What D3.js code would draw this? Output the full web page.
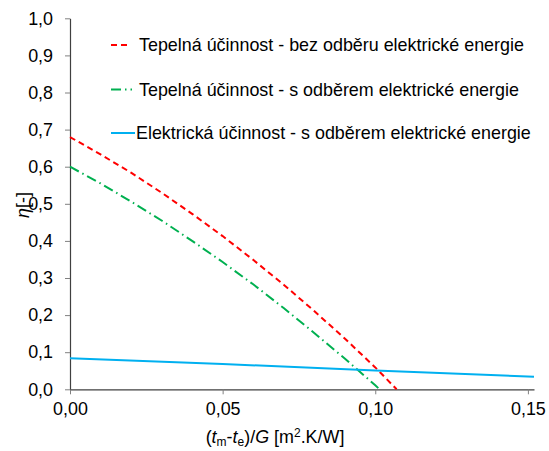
<!DOCTYPE html>
<html>
<head>
  <meta charset="utf-8">
  <script src="https://cdn.jsdelivr.net/npm/d3@7"></script>
  <style>
    body { margin: 0; background: #fff; }
    text { font-family: "Liberation Sans", Arial, sans-serif; fill: #000; }
  </style>
</head>
<body>
  <script>

  var width = 549
  var height = 451
  var fs = 17.9

  // x = (tm-te)/G
  var xRed = [0, 0.01, 0.02, 0.03, 0.04, 0.05, 0.06, 0.07, 0.08, 0.09, 0.10, 0.107];
  var yRed = [0.68, 0.633, 0.584, 0.530, 0.473, 0.413, 0.349, 0.282, 0.211, 0.137, 0.059, 0.0];

  var xGreen = [0, 0.01, 0.02, 0.03, 0.04, 0.05, 0.06, 0.07, 0.08, 0.09, 0.10, 0.1014];
  var yGreen = [0.60, 0.555, 0.506, 0.455, 0.400, 0.343, 0.283, 0.219, 0.152, 0.083, 0.011, 0.0];

  var xBlue = [0, 0.05, 0.10, 0.152];
  var yBlue = [0.084, 0.068, 0.051, 0.034];

  var seriesNames = [
    "Tepelná účinnost - bez odběru elektrické energie",
    "Tepelná účinnost - s odběrem elektrické energie",
    "Elektrická účinnost - s odběrem elektrické energie"
  ];
  var xTicks = [0, 0.05, 0.10, 0.15];
  var yTicks = [0, 0.1, 0.2, 0.3, 0.4, 0.5, 0.6, 0.7, 0.8, 0.9, 1.0];

  var series = [
    {name: seriesNames[0], xs: xRed, ys: yRed, color: "#ff0000", dash: "6,4"},
    {name: seriesNames[1], xs: xGreen, ys: yGreen, color: "#00b050", dash: "10,4,1.5,4"},
    {name: seriesNames[2], xs: xBlue, ys: yBlue, color: "#00b0f0", dash: null}
  ];

  var x = d3.scaleLinear().domain([0, 0.152]).range([70, 534]);
  var y = d3.scaleLinear().domain([0, 1]).range([389.3, 18.3]);

  var svg = d3.select('body').append("svg")
    .attr("width", width)
    .attr("height", height);

  var comma = function(n, d) { return d3.format("." + d + "f")(n).replace(".", ","); };

  // axes
  var xAxis = svg.append("g")
    .attr("transform", "translate(0," + y(0) + ")")
    .call(d3.axisBottom(x).tickValues(xTicks).tickSize(5).tickSizeOuter(0)
      .tickFormat(function(d) { return comma(d, 2); }));

  var yAxis = svg.append("g")
    .attr("transform", "translate(" + x(0) + ",0)")
    .call(d3.axisLeft(y).tickValues(yTicks).tickSize(5).tickSizeOuter(0)
      .tickFormat(function(d) { return comma(d, 1); }));

  [xAxis, yAxis].forEach(function(ax) {
    ax.select(".domain").attr("stroke", "#404040").attr("stroke-width", 1.2);
    ax.selectAll(".tick line").attr("stroke", "#808080");
    ax.selectAll(".tick text").attr("font-size", fs)
      .attr("font-family", "Liberation Sans, Arial, sans-serif").attr("fill", "#000");
  });
  xAxis.selectAll(".tick text").attr("dy", "1.0em");
  yAxis.selectAll(".tick text").attr("x", -17);

  // lines
  var line = d3.line()
    .x(function(d) { return x(d[0]); })
    .y(function(d) { return y(d[1]); });

  svg.selectAll(".series")
    .data(series).enter()
    .append("path")
    .attr("class", "series")
    .attr("fill", "none")
    .attr("stroke", function(d) { return d.color; })
    .attr("stroke-width", 2)
    .attr("stroke-dasharray", function(d) { return d.dash; })
    .attr("d", function(d) { return line(d.xs.map(function(v, i) { return [v, d.ys[i]]; })); });

  // legend
  var legend = svg.selectAll(".legend")
    .data(series).enter()
    .append("g")
    .attr("class", "legend")
    .attr("transform", function(d, i) { return "translate(111," + [45, 89.5, 133][i] + ")"; });

  legend.append("line")
    .attr("x1", 0).attr("x2", function(d, i) { return [19, 21, 24][i]; })
    .attr("y1", 0).attr("y2", 0)
    .attr("stroke", function(d) { return d.color; })
    .attr("stroke-width", 2)
    .attr("stroke-dasharray", function(d) { return d.dash; });

  legend.append("text")
    .attr("x", function(d, i) { return i == 2 ? 25 : 28; })
    .attr("y", 0)
    .attr("dy", "0.35em")
    .attr("font-size", fs)
    .text(function(d) { return d.name; });

  // axis titles
  var yt = svg.append("text")
    .attr("transform", "translate(29,205) rotate(-90)")
    .attr("text-anchor", "middle")
    .attr("font-size", fs);
  yt.append("tspan").attr("font-style", "italic").text("η");
  yt.append("tspan").text("[-]");

  var xt = svg.append("text")
    .attr("x", 275)
    .attr("y", 443)
    .attr("text-anchor", "middle")
    .attr("font-size", fs);
  xt.append("tspan").text("(");
  xt.append("tspan").attr("font-style", "italic").text("t");
  xt.append("tspan").attr("font-size", 12).attr("dy", 3).text("m");
  xt.append("tspan").attr("dy", -3).text("-");
  xt.append("tspan").attr("font-style", "italic").text("t");
  xt.append("tspan").attr("font-size", 12).attr("dy", 3).text("e");
  xt.append("tspan").attr("dy", -3).text(")/");
  xt.append("tspan").attr("font-style", "italic").text("G");
  xt.append("tspan").text(" [m");
  xt.append("tspan").attr("font-size", 12).attr("dy", -6).text("2");
  xt.append("tspan").attr("dy", 6).text(".K/W]");

  </script>
</body>
</html>
